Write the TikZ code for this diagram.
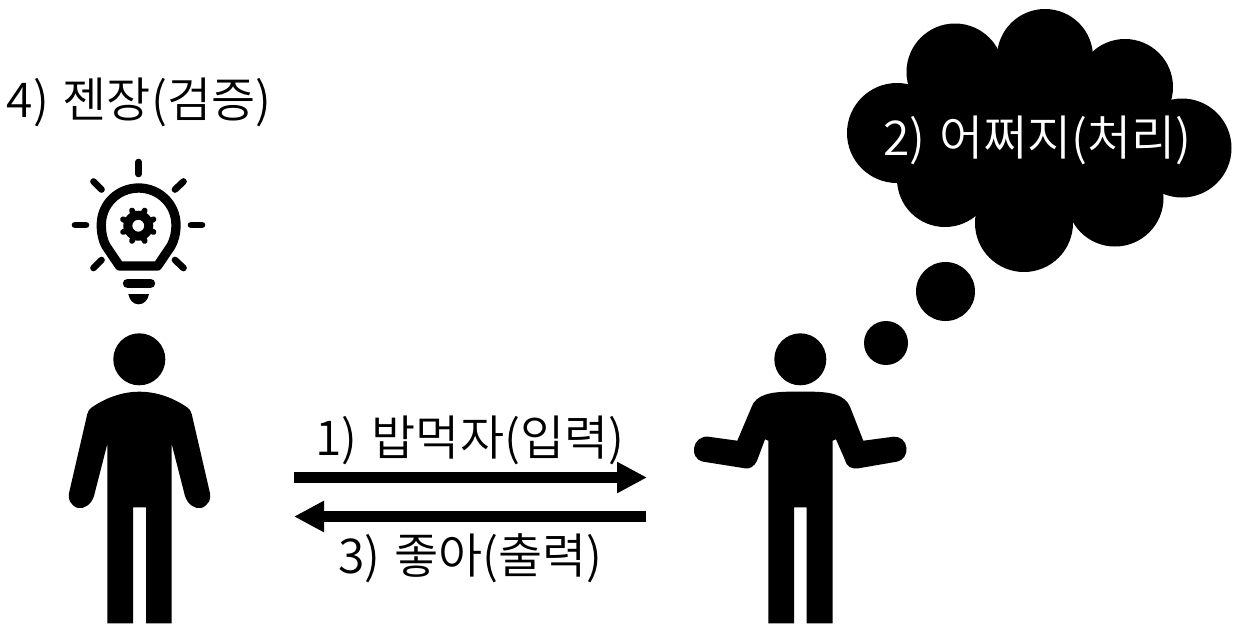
\documentclass[tikz,border=0pt]{standalone}
\usepackage{fontspec}
\setmainfont[WordSpace=1.3]{Noto Sans CJK KR DemiLight}
\usetikzlibrary{arrows.meta}
\tikzset{
  ink/.style={fill=black,draw=none},
  label text/.style={font=\fontsize{36}{42}\selectfont,inner sep=0pt,text=black},
  bulb line/.style={draw=black,line width=5pt,line cap=round},
  flow/.style={draw=black,line width=7.7pt,-{Triangle[length=22.5pt,width=22pt]}}
}
\begin{document}
\begin{tikzpicture}[x=0.75pt,y=-0.75pt]
\useasboundingbox (0,0) rectangle (1243,637);
% left person
\fill[ink] (139.3,359.3) circle[radius=26];
\fill[ink] (107.3,623.3) -- (107.3,444) -- (94,496)
  .. controls (91,505) and (84,509) .. (78,508)
  .. controls (71,506) and (67,499) .. (69.5,491)
  -- (87.3,414) .. controls (88,411) and (89,410) .. (91,408)
  .. controls (105,398) and (122,391.7) .. (139.5,391.7)
  .. controls (157,391.7) and (174,398) .. (188,408)
  .. controls (190,410) and (191,411) .. (191.7,414)
  -- (209.5,491) .. controls (212,499) and (208,506) .. (201,508)
  .. controls (195,509) and (188,505) .. (185,496)
  -- (171.7,444) -- (171.7,623.3) -- (146,623.3) -- (146,507.3) -- (133,507.3) -- (133,623.3) -- cycle;
% right person
\fill[ink] (800.3,359.3) circle[radius=26];
\fill[ink] (768.3,623.3) -- (768.3,440.7) -- (765,439.3) -- (757.3,460)
  .. controls (754,467) and (750,469) .. (745,468.3)
  -- (703.3,461.7) .. controls (696,460) and (693,454) .. (694,448)
  .. controls (695,441) and (701,436) .. (708.3,436.7)
  -- (737.3,440.7) -- (751.7,406.7)
  .. controls (756,395) and (770,391.7) .. (790,391.7)
  -- (811,391.7) .. controls (831,391.7) and (845,395) .. (850,406.7)
  -- (863.3,440.7) -- (893.3,436.7)
  .. controls (900,436) and (906,441) .. (906.5,448)
  .. controls (907,454) and (904,460) .. (896.7,461.7)
  -- (858.3,468.3) .. controls (851,469) and (847,467) .. (845,460)
  -- (836,439.3) -- (832.7,440.7) -- (832.7,623.3) -- (806.7,623.3) -- (806.7,507.3) -- (794,507.3) -- (794,623.3) -- cycle;
% cloud
\fill[ink] (1045,57) circle[radius=48];
\fill[ink] (955,72) circle[radius=48.5];
\fill[ink] (1125,87) circle[radius=48];
\fill[ink] (897,133) circle[radius=50];
\fill[ink] (1182,148) circle[radius=49.5];
\fill[ink] (945,179) circle[radius=48];
\fill[ink] (1024,223) circle[radius=49];
\fill[ink] (1115,198) circle[radius=48.5];
\fill[ink] (955,72) -- (1045,57) -- (1125,87) -- (1182,148) -- (1115,198) -- (1024,223) -- (945,179) -- (897,133) -- cycle;
\fill[ink] (945.5,291.5) circle[radius=29.5];
\fill[ink] (886,343) circle[radius=22];
% bulb
\draw[bulb line] (138.5,162) -- (138.5,174);
\draw[bulb line] (75,225) -- (86,225);
\draw[bulb line] (191,225) -- (202,225);
\draw[bulb line] (93.5,181.5) -- (101.5,189.5);
\draw[bulb line] (183.5,181.5) -- (175,189.5);
\draw[bulb line] (101.5,260) -- (93.5,268);
\draw[bulb line] (175,260) -- (183.5,268);
\draw[draw=black,line width=7pt,line join=round]
  (119.5,266) -- (106,246) .. controls (103,241) and (101.3,233) .. (101.3,225)
  .. controls (101.3,204) and (118,188) .. (138.7,188)
  .. controls (159,188) and (176,204) .. (176,225)
  .. controls (176,233) and (174,241) .. (171,246) -- (157.5,266) -- cycle;
\foreach \a in {0,45,...,315}
  \draw[black,line width=4.3pt,line cap=round] (138.3,225.7) ++(\a+22.5:13) -- ++(\a+22.5:3.5);
\fill[ink,even odd rule] (138.3,225.7) circle[radius=15] (138.3,225.7) circle[radius=6];
\draw[draw=black,line width=7pt,line cap=round] (127.5,283.3) -- (150.5,283.3);
\fill[ink] (128.3,294) -- (149,294) .. controls (148,300) and (144,304.3) .. (138.7,304.3) .. controls (133,304.3) and (129.5,300) .. (128.3,294) -- cycle;
% arrows
\coordinate (a1) at (294,477.5);
\coordinate (b1) at (647,477.5);
\coordinate (a2) at (646,516.5);
\coordinate (b2) at (294,516.5);
\draw[flow] (a1) -- (b1);
\draw[flow] (a2) -- (b2);
% labels
\node[label text,anchor=center] (t4) at (139,102) {4) 젠장(검증)};
\node[label text,anchor=center] (t1) at (470,440) {1) 밥먹자(입력)};
\node[label text,anchor=center] (t3) at (470.5,558) {3) 좋아(출력)};
\node[label text,anchor=center,text=white] (t2) at (1037.5,140) {2) 어쩌지(처리)};
\end{tikzpicture}
\end{document}
